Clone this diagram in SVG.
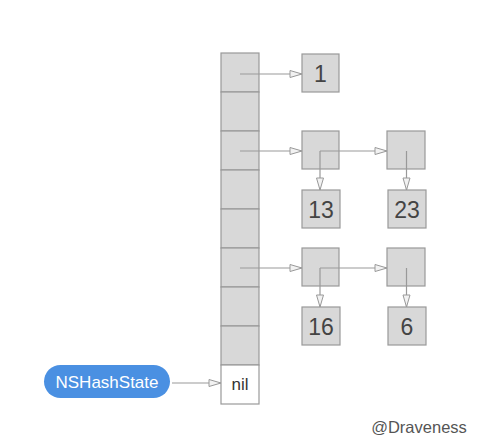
<svg xmlns="http://www.w3.org/2000/svg" width="484" height="447" viewBox="0 0 484 447">
<defs>
<style>
.cell{fill:#D8D8D8;stroke:#999999;stroke-width:1.2}
.white{fill:#FFFFFF;stroke:#999999;stroke-width:1.2}
.num{font-family:"Liberation Sans",Arial,sans-serif;font-size:23px;fill:#444444;text-anchor:middle}
.line{fill:none;stroke:#999999;stroke-width:1.2;marker-end:url(#arr)}
</style>
<marker id="arr" viewBox="0 0 14 10" refX="13" refY="5" markerWidth="14" markerHeight="10" markerUnits="userSpaceOnUse" orient="auto">
<path d="M1,1.5 L13,5 L1,8.5 z" fill="#F2F2F2" stroke="#999999" stroke-width="1"/>
</marker>
</defs>
<rect width="484" height="447" fill="#FFFFFF"/>
<g id="table">
<rect class="cell" x="221" y="53" width="38" height="39"/>
<rect class="cell" x="221" y="92" width="38" height="39"/>
<rect class="cell" x="221" y="131" width="38" height="39"/>
<rect class="cell" x="221" y="170" width="38" height="39"/>
<rect class="cell" x="221" y="209" width="38" height="39"/>
<rect class="cell" x="221" y="248" width="38" height="39"/>
<rect class="cell" x="221" y="287" width="38" height="39"/>
<rect class="cell" x="221" y="326" width="38" height="39"/>
</g>
<g id="nil">
<rect class="white" x="221" y="365" width="38" height="39"/>
<text x="240" y="390" font-family="'Liberation Sans',Arial,sans-serif" font-size="17" fill="#333333" text-anchor="middle">nil</text>
</g>
<g id="node-1">
<rect class="cell" x="302" y="54" width="37" height="38"/>
<text class="num" x="320.5" y="81.5">1</text>
</g>
<g id="node-a">
<rect class="cell" x="302" y="131" width="37" height="38"/>
</g>
<g id="node-b">
<rect class="cell" x="387" y="131" width="38" height="38"/>
</g>
<g id="node-13">
<rect class="cell" x="302" y="190" width="38" height="38"/>
<text class="num" x="321" y="217.5">13</text>
</g>
<g id="node-23">
<rect class="cell" x="388" y="190" width="38" height="38"/>
<text class="num" x="407" y="217.5">23</text>
</g>
<g id="node-c">
<rect class="cell" x="302" y="248" width="37" height="38"/>
</g>
<g id="node-d">
<rect class="cell" x="387" y="248" width="38" height="38"/>
</g>
<g id="node-16">
<rect class="cell" x="302" y="307" width="38" height="38"/>
<text class="num" x="321" y="334.5">16</text>
</g>
<g id="node-6">
<rect class="cell" x="388" y="307" width="38" height="38"/>
<text class="num" x="407" y="334.5">6</text>
</g>
<g id="state">
<rect x="44" y="365" width="126" height="33" rx="16.5" fill="#4A90E2"/>
<text x="107" y="387.5" font-family="'Liberation Sans',Arial,sans-serif" font-size="17" fill="#FFFFFF" text-anchor="middle">NSHashState</text>
</g>
<g id="connectors">
<path class="line" d="M240,74 L302,74"/>
<path class="line" d="M240,151 L302,151"/>
<path class="line" d="M320,151 L387,151"/>
<path class="line" d="M320,151 L320,190"/>
<path class="line" d="M406.5,151 L406.5,190"/>
<path class="line" d="M240,268 L302,268"/>
<path class="line" d="M320,268 L387,268"/>
<path class="line" d="M320,268 L320,307"/>
<path class="line" d="M406.5,268 L406.5,307"/>
<path class="line" d="M172,383 L221,383"/>
</g>
<text x="419" y="433" font-family="'Liberation Sans',Arial,sans-serif" font-size="16.5" fill="#555555" text-anchor="middle">@Draveness</text>
</svg>
